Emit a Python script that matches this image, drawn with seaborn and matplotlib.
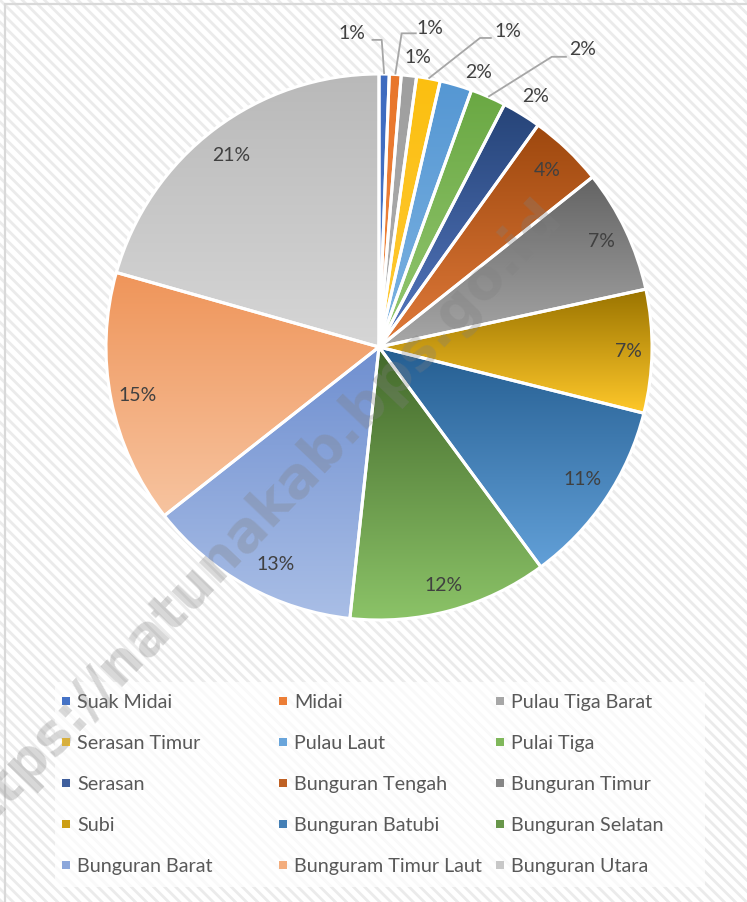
import numpy as np
import matplotlib as mpl
import matplotlib.pyplot as plt
import seaborn as sns
from matplotlib.lines import Line2D
from matplotlib.patches import Rectangle

# shares per district (percent)
districts = ["Suak Midai", "Midai", "Pulau Tiga Barat", "Serasan Timur", "Pulau Laut",
             "Pulai Tiga", "Serasan", "Bunguran Tengah", "Bunguran Timur", "Subi",
             "Bunguran Batubi", "Bunguran Selatan", "Bunguran Barat",
             "Bunguram Timur Laut", "Bunguran Utara"]
shares = [0.6, 0.7, 0.9, 1.4, 1.9, 2.1, 2.3, 4.4, 7.3, 7.3, 11.0, 11.8, 12.7, 15.0, 20.6]

# gradient colours (top -> bottom of each slice), office-like palette
top_colors = ["#3e6bbf", "#e8762b", "#9e9e9e", "#fbbf10", "#5597d3", "#6aa843", "#264478",
              "#9e480e", "#636363", "#997300", "#255e91", "#43682b", "#6f8fd0", "#ef955a", "#b9b9b9"]
bottom_colors = ["#4a78cc", "#ef8540", "#b0b0b0", "#ffc935", "#7db3e2", "#95c872", "#5578c0",
                 "#e07a3a", "#a8a8a8", "#ffc82a", "#62a0d8", "#8cc468", "#a9bee6", "#f7c4a0", "#d6d6d6"]

# label layout in pie-radius units
label_pos = [(-0.099, 1.150), (0.187, 1.168), (0.143, 1.062), (0.473, 1.154), (0.366, 1.007),
             (0.744, 1.088), (0.575, 0.916), (0.615, 0.648), (0.813, 0.385), (0.912, -0.015),
             (0.744, -0.487), (0.238, -0.875), (-0.377, -0.795), (-0.883, -0.176), (-0.542, 0.703)]
# leader lines: start near the label, elbow, then to the slice edge
leaders = {0: [(-0.027, 1.125), (0.010, 1.125)],
           1: [(0.138, 1.149), (0.083, 1.149)],
           3: [(0.413, 1.132), (0.370, 1.132)],
           5: [(0.688, 1.063), (0.633, 1.063)]}

sns.set_style("white")
plt.rcParams["font.family"] = ["Lato", "DejaVu Sans"]
mpl.rcParams["hatch.linewidth"] = 2.0
mpl.rcParams["hatch.color"] = "#ebebeb"

W, H = 747, 902
cx, cy, R = 379, 347, 273
fig = plt.figure(figsize=(W / 100, H / 100), dpi=100)
fig.patch.set_facecolor("white")

# hatched chart-area background + border
fig.add_artist(Rectangle((0, 0), 1, 1, transform=fig.transFigure, facecolor="white",
                         edgecolor="#ebebeb", hatch="\\\\\\", lw=0, zorder=-10))
fig.add_artist(Rectangle((55 / W, 1 - 887 / H), 650 / W, 205 / H, transform=fig.transFigure,
                         facecolor="white", edgecolor="none", alpha=0.7, zorder=-5))
fig.add_artist(Line2D([5 / W, 5 / W], [0, 1 - 4 / H], transform=fig.transFigure, color="#d9d9d9", lw=1.6))
fig.add_artist(Line2D([5 / W, 1], [1 - 4 / H, 1 - 4 / H], transform=fig.transFigure, color="#d9d9d9", lw=1.6))

ax = fig.add_axes([0, 0, 1, 1])
wedges, _ = ax.pie(shares, startangle=90, counterclock=False, radius=1,
                   wedgeprops=dict(linewidth=0))
for w, c in zip(wedges, top_colors):
    w.set_facecolor(c)

grad = np.linspace(0, 1, 256).reshape(-1, 1)
for w, c0, c1 in zip(wedges, top_colors, bottom_colors):
    v = w.get_path().vertices
    cmap = sns.blend_palette([c0, c1], as_cmap=True)
    im = ax.imshow(grad, extent=[v[:, 0].min(), v[:, 0].max(), v[:, 1].min(), v[:, 1].max()],
                   origin="upper", cmap=cmap, aspect="auto", zorder=2, interpolation="bilinear")
    im.set_clip_path(w)

# white separators on top
ax.pie(shares, startangle=90, counterclock=False, radius=1,
       wedgeprops=dict(facecolor="none", edgecolor="white", linewidth=2.2, zorder=3))

total = sum(shares)
cum = 0
for i, (v, (lx, ly)) in enumerate(zip(shares, label_pos)):
    mid = np.deg2rad(3.6 * (cum + v / 2) * 100 / total)
    cum += v
    ax.text(lx, ly, f"{round(v / total * 100)}%", ha="center", va="center",
            fontsize=14, color="#404040", zorder=5)
    if i in leaders:
        (sx, sy), (ex, ey) = leaders[i]
        ax.plot([sx, ex, np.sin(mid)], [sy, ey, np.cos(mid)], color="#a6a6a6", lw=1.3,
                zorder=4, solid_capstyle="butt")

ax.set_xlim((0 - cx) / R, (W - cx) / R)
ax.set_ylim((cy - H) / R, cy / R)
ax.set_axis_off()

# legend: three columns, row-major order
for col, x0 in enumerate([61, 278, 495]):
    handles = [Line2D([], [], ls="none", marker="s", markersize=6,
                      markerfacecolor=sns.blend_palette([top_colors[k], bottom_colors[k]], 3)[1],
                      markeredgewidth=0)
               for k in range(col, len(districts), 3)]
    leg = fig.legend(handles, districts[col::3], loc="upper left",
                     bbox_to_anchor=(x0 / W, 1 - 694 / H), bbox_transform=fig.transFigure,
                     frameon=False, fontsize=14.2, labelcolor="#595959", borderpad=0,
                     borderaxespad=0, handlelength=0.5, handletextpad=0.32, labelspacing=1.22)

# watermark (cut by the left edge, as in the source image)
fig.text(552 / W, 1 - 208 / H, "https://natunakab.bps.go.id", rotation=46.5,
         rotation_mode="anchor", ha="right", va="center", fontsize=40, fontweight="bold",
         family="DejaVu Sans", color="#7f7f7f", alpha=0.3, zorder=10)

fig.savefig("out.png", dpi=100)
